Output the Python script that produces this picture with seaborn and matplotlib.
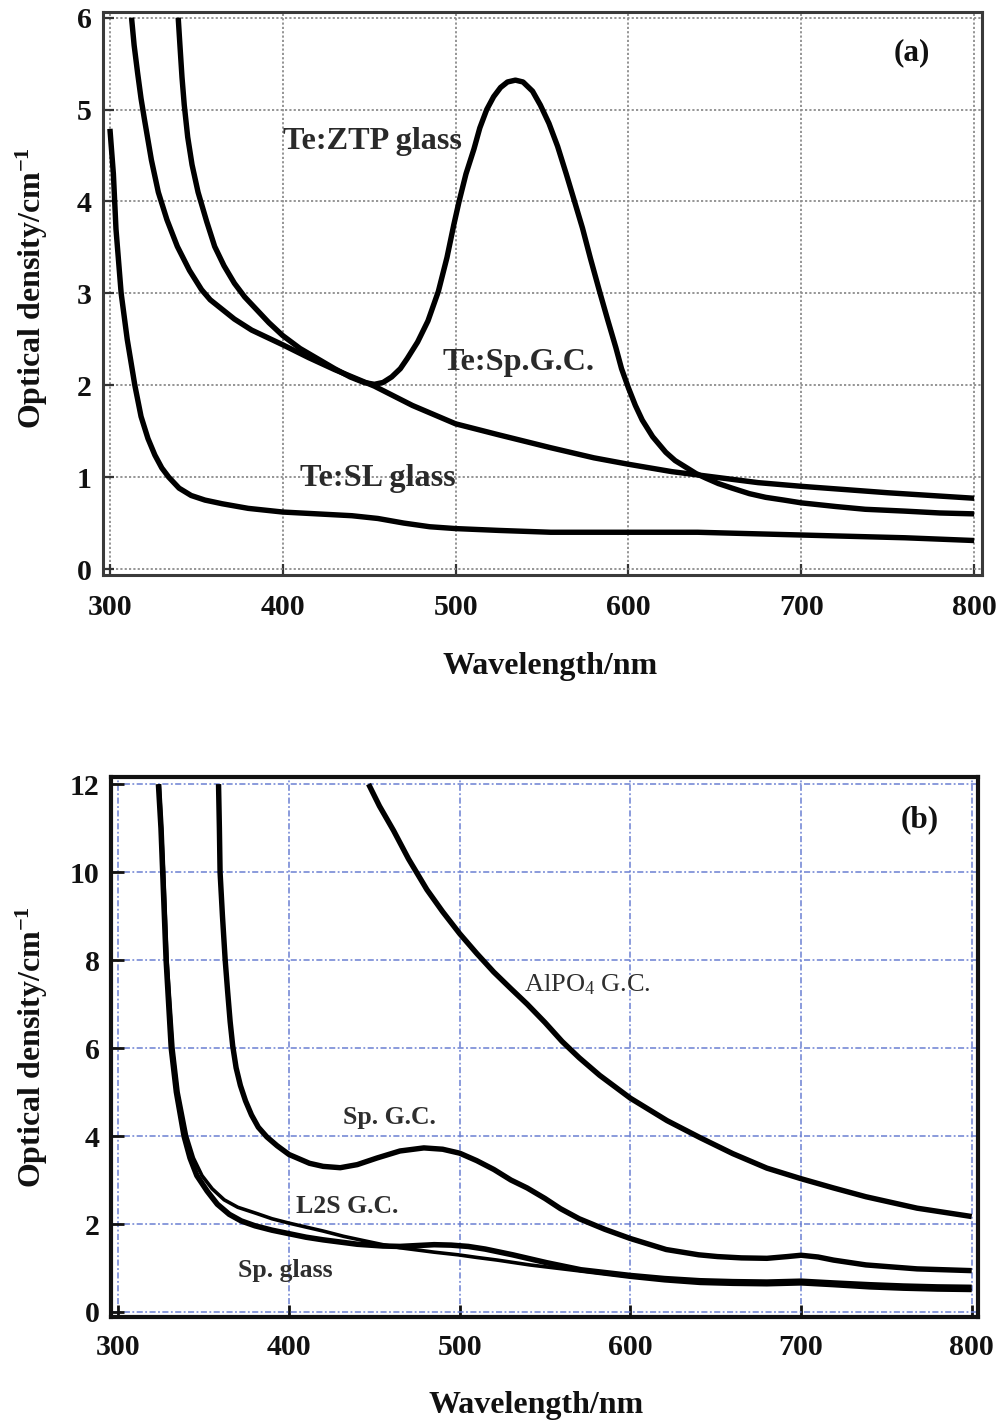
import numpy as np
import pandas as pd
import matplotlib
matplotlib.use("Agg")
import matplotlib.pyplot as plt
import seaborn as sns

# ---------------- Panel (a) data ----------------
a_sl_x = [300, 302, 303.5, 306.5, 310, 314.4, 318, 322, 326, 330, 334, 340, 347, 355, 365, 380, 400, 420, 440,
          455, 470, 485, 500, 525, 555, 600, 640, 680, 720, 760, 800]
a_sl_y = [4.79, 4.3, 3.7, 3.0, 2.5, 2.0, 1.66, 1.42, 1.24, 1.1, 1.0, 0.88, 0.8, 0.75, 0.71, 0.66, 0.62, 0.6, 0.58,
          0.55, 0.5, 0.46, 0.44, 0.42, 0.40, 0.40, 0.40, 0.38, 0.36, 0.34, 0.31]

a_spgc_x = [312.5, 314, 316, 318, 320, 324, 328, 333, 339, 346, 353, 358, 364, 372, 382, 400, 415, 430, 453,
            475, 500, 525, 555, 580, 600, 625, 650, 675, 700, 750, 800]
a_spgc_y = [6.0, 5.7, 5.4, 5.12, 4.89, 4.45, 4.1, 3.8, 3.51, 3.25, 3.04, 2.93, 2.84, 2.72, 2.6, 2.44, 2.3,
            2.17, 1.99, 1.78, 1.58, 1.46, 1.32, 1.21, 1.14, 1.06, 1.0, 0.94, 0.9, 0.83, 0.77]

a_ztp_x = [339.5, 340.5, 341.7, 343, 345, 347.5, 351, 356, 360.6, 366, 372, 378, 384, 392, 400, 410, 420, 430,
           439, 447, 453, 458, 463, 468, 472, 478, 484, 490, 495, 499, 502, 506, 510.6, 514, 518, 522, 526,
           530, 534.6, 539, 544.5, 549, 554, 559, 564, 568, 573.4, 578, 583, 588, 592.7, 596, 600, 604, 608,
           614, 621.6, 627, 633, 639, 644.7, 652, 660, 670, 679.4, 690, 700, 720, 737, 760, 780, 800]
a_ztp_y = [6.0, 5.7, 5.35, 5.05, 4.7, 4.4, 4.1, 3.78, 3.51, 3.3, 3.11, 2.96, 2.84, 2.68, 2.54, 2.4, 2.29, 2.18,
           2.09, 2.03, 2.01, 2.03, 2.09, 2.18, 2.29, 2.47, 2.7, 3.02, 3.39, 3.75, 4.0, 4.3, 4.57, 4.8, 5.0,
           5.14, 5.24, 5.3, 5.32, 5.3, 5.2, 5.05, 4.85, 4.6, 4.3, 4.05, 3.71, 3.38, 3.04, 2.71, 2.41, 2.18,
           1.97, 1.78, 1.62, 1.44, 1.27, 1.18, 1.11, 1.04, 0.99, 0.93, 0.88, 0.82, 0.78, 0.75, 0.72, 0.68,
           0.65, 0.63, 0.61, 0.60]

a_xticks = [300, 400, 500, 600, 700, 800]
a_yticks = [0, 1, 2, 3, 4, 5, 6]

# ---------------- Panel (b) data ----------------
b_spglass_x = [323.5, 325, 326, 327, 328, 329.5, 331, 334, 338.5, 342, 346, 352, 358, 365, 372, 380, 390, 400,
               410, 420, 440, 455, 465, 475, 485, 495, 505, 515, 531, 551, 571, 600, 620, 641, 660, 680, 700,
               719, 740, 760, 780, 800]
b_spglass_y = [12, 11, 10, 9, 8, 7, 6, 5, 4, 3.5, 3.1, 2.75, 2.45, 2.22, 2.07, 1.96, 1.86, 1.78,
               1.7, 1.64, 1.54, 1.5, 1.49, 1.51, 1.53, 1.52, 1.49, 1.43, 1.3, 1.12, 0.96, 0.83, 0.76, 0.71,
               0.69, 0.68, 0.7, 0.66, 0.62, 0.59, 0.57, 0.56]

b_l2s_x = [324, 326.5, 328.5, 332, 335, 340, 344, 349, 355, 362, 370, 381, 390, 400, 410, 420, 432, 444, 455,
           465, 475, 485, 499, 510, 522, 541, 556, 571, 600, 620, 641, 660, 680, 700, 719, 740, 760, 780, 800]
b_l2s_y = [12, 10, 8, 6, 5, 4, 3.5, 3.1, 2.8, 2.55, 2.38, 2.24, 2.12, 2.02, 1.93, 1.84, 1.72, 1.62, 1.53,
           1.46, 1.41, 1.36, 1.3, 1.24, 1.18, 1.07, 1.0, 0.93, 0.79, 0.71, 0.65, 0.63, 0.62, 0.64, 0.6, 0.55,
           0.52, 0.5, 0.49]

b_spgc_x = [358.7, 359.2, 359.6, 361, 362.6, 364, 365.5, 367, 369, 371.5, 374.5, 378, 382, 387, 393, 400, 412,
            420, 430, 440, 451.5, 465, 479, 490, 500, 510, 520, 530, 539.5, 550, 559, 570, 585, 600, 621, 640,
            651, 665, 680, 692, 700, 710, 719, 738, 768, 800]
b_spgc_y = [12, 11, 10, 9, 8, 7.3, 6.6, 6.05, 5.55, 5.15, 4.8, 4.48, 4.2, 3.98, 3.78, 3.58, 3.38,
            3.31, 3.28, 3.35, 3.5, 3.66, 3.73, 3.7, 3.61, 3.44, 3.24, 3.0, 2.82, 2.58, 2.35, 2.12, 1.88, 1.67,
            1.42, 1.3, 1.26, 1.23, 1.22, 1.26, 1.29, 1.25, 1.18, 1.07, 0.98, 0.94]

b_alpo_x = [446.6, 453, 461.3, 470, 480.8, 490, 500, 510, 519.9, 530, 539.5, 550, 560, 570, 582, 600, 621.5,
            641, 660, 680, 700, 719, 738, 768, 800]
b_alpo_y = [12, 11.5, 10.94, 10.3, 9.6, 9.1, 8.6, 8.15, 7.73, 7.35, 7.0, 6.58, 6.15, 5.78, 5.38, 4.86, 4.35,
            3.96, 3.6, 3.27, 3.03, 2.82, 2.62, 2.36, 2.17]

b_xticks = [300, 400, 500, 600, 700, 800]
b_yticks = [0, 2, 4, 6, 8, 10, 12]

# ---------------- style ----------------
sns.set_theme(style="white")
plt.rcParams['font.family'] = ['Liberation Serif', 'DejaVu Serif']
plt.rcParams['font.weight'] = 'bold'
plt.rcParams['axes.labelweight'] = 'bold'
plt.rcParams['mathtext.fontset'] = 'custom'
plt.rcParams['mathtext.rm'] = 'Liberation Serif'
plt.rcParams['mathtext.bf'] = 'Liberation Serif:bold'
plt.rcParams['mathtext.it'] = 'Liberation Serif:italic'

fig = plt.figure(figsize=(10.07, 14.25), dpi=100)
ax1 = fig.add_axes([0.1023, 0.5965, 0.8728, 0.3953])
ax2 = fig.add_axes([0.1099, 0.0756, 0.861, 0.3794])

def draw(ax, x, y, lw):
    df = pd.DataFrame({"x": x, "y": y})
    sns.lineplot(data=df, x="x", y="y", ax=ax, color="black", linewidth=lw,
                 sort=False, estimator=None, solid_capstyle="butt", solid_joinstyle="round")

# Panel (a)
draw(ax1, a_sl_x, a_sl_y, 3.9)
draw(ax1, a_spgc_x, a_spgc_y, 3.9)
draw(ax1, a_ztp_x, a_ztp_y, 3.9)
ax1.set_xlim(296, 804.5)
ax1.set_ylim(-0.065, 6.065)
ax1.set_xticks(a_xticks)
ax1.set_yticks(a_yticks)
ax1.grid(True, color="#8c8c8c", linestyle=(0, (1.2, 1.2)), linewidth=1.3)
ax1.set_axisbelow(True)
for s in ax1.spines.values():
    s.set_color("#3a3a3a")
    s.set_linewidth(2.2)
ax1.tick_params(axis="both", direction="in", length=8, width=1.6, color="#333333",
                bottom=True, left=True, top=False, right=False, labelsize=21.5, labelcolor="#111111")
ax1.tick_params(axis="x", pad=14)
ax1.tick_params(axis="y", pad=8)
ax1.set_xlabel("Wavelength/nm", fontsize=23, color="#111111")
ax1.set_ylabel(r"Optical density/cm$^{\mathbf{-1}}$", fontsize=23, color="#111111")
ax1.xaxis.set_label_coords(0.5085, -0.136)
ax1.yaxis.set_label_coords(-0.060, 0.51)

lab_kw = dict(fontsize=23.2, fontweight="bold", color="#2a2a2a", va="center", ha="left")
ax1.text(400, 4.65, "Te:ZTP glass", **lab_kw)
ax1.text(492.5, 2.25, "Te:Sp.G.C.", **lab_kw)
ax1.text(409.8, 0.99, "Te:SL glass", **lab_kw)
ax1.text(764, 5.62, "(a)", fontsize=22.5, fontweight="bold", color="#111111", ha="center", va="center")

# Panel (b)
draw(ax2, b_alpo_x, b_alpo_y, 3.9)
draw(ax2, b_spgc_x, b_spgc_y, 3.9)
draw(ax2, b_l2s_x, b_l2s_y, 2.6)
draw(ax2, b_spglass_x, b_spglass_y, 4.0)
ax2.set_xlim(295.5, 803.5)
ax2.set_ylim(-0.12, 12.17)
ax2.set_xticks(b_xticks)
ax2.set_yticks(b_yticks)
ax2.grid(True, color="#6b80d2", linestyle=(0, (4, 1.6, 1.2, 1.6)), linewidth=1.1)
ax2.set_axisbelow(True)
for s in ax2.spines.values():
    s.set_color("#111111")
    s.set_linewidth(3.0)
ax2.tick_params(axis="both", direction="in", length=9, width=2.0, color="#111111",
                bottom=True, left=True, top=False, right=False, labelsize=21.5, labelcolor="#111111")
ax2.tick_params(axis="x", pad=12)
ax2.tick_params(axis="y", pad=8)
ax2.set_xlabel("Wavelength/nm", fontsize=23, color="#111111")
ax2.set_ylabel(r"Optical density/cm$^{\mathbf{-1}}$", fontsize=23, color="#111111")
ax2.xaxis.set_label_coords(0.4905, -0.137)
ax2.yaxis.set_label_coords(-0.0705, 0.5)

lab_b = dict(fontsize=18.5, fontweight="bold", color="#2e2e2e", va="center", ha="left")
ax2.text(431.9, 4.43, "Sp. G.C.", **lab_b)
ax2.text(403.8, 2.39, "L2S G.C.", **lab_b)
ax2.text(370, 0.95, "Sp. glass", **lab_b)
ax2.text(537.4, 7.43, r"AlPO$_{\mathregular{4}}$ G.C.", fontsize=19, fontweight="normal", color="#2e2e2e",
         va="center", ha="left")
ax2.text(769.5, 11.18, "(b)", fontsize=22.5, fontweight="bold", color="#111111", ha="center", va="center")

fig.savefig("out.png", dpi=100)
